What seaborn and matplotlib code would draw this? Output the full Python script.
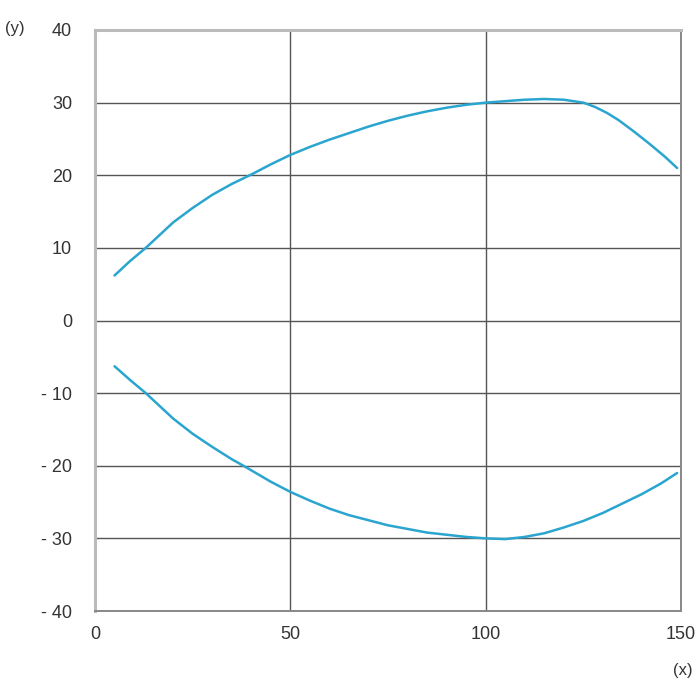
import pandas as pd
import matplotlib
matplotlib.use("Agg")
import matplotlib.pyplot as plt
import seaborn as sns

# values
upper_x = [5, 9, 13, 17, 20, 25, 30, 35, 40, 45, 50, 55, 60, 65, 70, 75, 80, 85, 90, 95,
           100, 105, 110, 115, 120, 125, 128, 131, 134, 138, 142, 146, 149]
upper_y = [6.2, 8.2, 10, 12, 13.5, 15.5, 17.3, 18.8, 20.1, 21.5, 22.8, 23.9, 24.9, 25.8, 26.7,
           27.5, 28.2, 28.8, 29.3, 29.7, 30, 30.2, 30.4, 30.5, 30.4, 30, 29.4, 28.6, 27.6, 26,
           24.3, 22.5, 21]
lower_x = [5, 9, 13, 17, 20, 25, 30, 35, 38, 45, 50, 55, 60, 65, 70, 75, 80, 85, 90, 95,
           100, 105, 110, 115, 120, 125, 130, 135, 140, 145, 149]
lower_y = [-6.3, -8.2, -10, -12, -13.5, -15.6, -17.4, -19.1, -20, -22.2, -23.6, -24.8, -25.9,
           -26.8, -27.5, -28.2, -28.7, -29.2, -29.5, -29.8, -30, -30.1, -29.8, -29.3, -28.5,
           -27.6, -26.5, -25.2, -23.9, -22.4, -21]

x_ticks = [0, 50, 100, 150]
y_ticks = [-40, -30, -20, -10, 0, 10, 20, 30, 40]
y_tick_labels = ["- 40", "- 30", "- 20", "- 10", "0", "10", "20", "30", "40"]

df = pd.concat([
    pd.DataFrame({"x": upper_x, "y": upper_y, "curve": "upper"}),
    pd.DataFrame({"x": lower_x, "y": lower_y, "curve": "lower"}),
])

sns.set_style("white")
plt.rcParams["font.family"] = ["Liberation Sans", "DejaVu Sans"]

fig = plt.figure(figsize=(7, 7), dpi=100)
ax = fig.add_axes([95 / 700, 89 / 700, 586 / 700, 581 / 700])

line_color = "#2aa5cf"
sns.lineplot(data=df, x="x", y="y", hue="curve", units="curve", estimator=None,
             sort=False, palette={"upper": line_color, "lower": line_color},
             linewidth=1.8, legend=False, ax=ax)

ax.set_xlim(0, 150)
ax.set_ylim(-40, 40)
ax.set_xticks(x_ticks)
ax.set_yticks(y_ticks)
ax.set_yticklabels(y_tick_labels)
ax.set_xlabel("")
ax.set_ylabel("")
ax.grid(True, color="#555555", linewidth=1.0)
ax.set_axisbelow(True)
ax.tick_params(axis="both", length=0, labelsize=13, colors="#333333")
ax.tick_params(axis="y", pad=16.5)
ax.tick_params(axis="x", pad=10.5)

for side in ["left", "top"]:
    ax.spines[side].set_color("#bbbbbb")
    ax.spines[side].set_linewidth(2.2)
for side in ["right", "bottom"]:
    ax.spines[side].set_color("#888888")
    ax.spines[side].set_linewidth(1.4)

fig.text(15 / 700, 1 - 29 / 700, "(y)", fontsize=12, color="#333333", ha="center", va="center")
fig.text(683 / 700, 1 - 670 / 700, "(x)", fontsize=12, color="#333333", ha="center", va="center")

fig.savefig("out.png", dpi=100, facecolor="white")
